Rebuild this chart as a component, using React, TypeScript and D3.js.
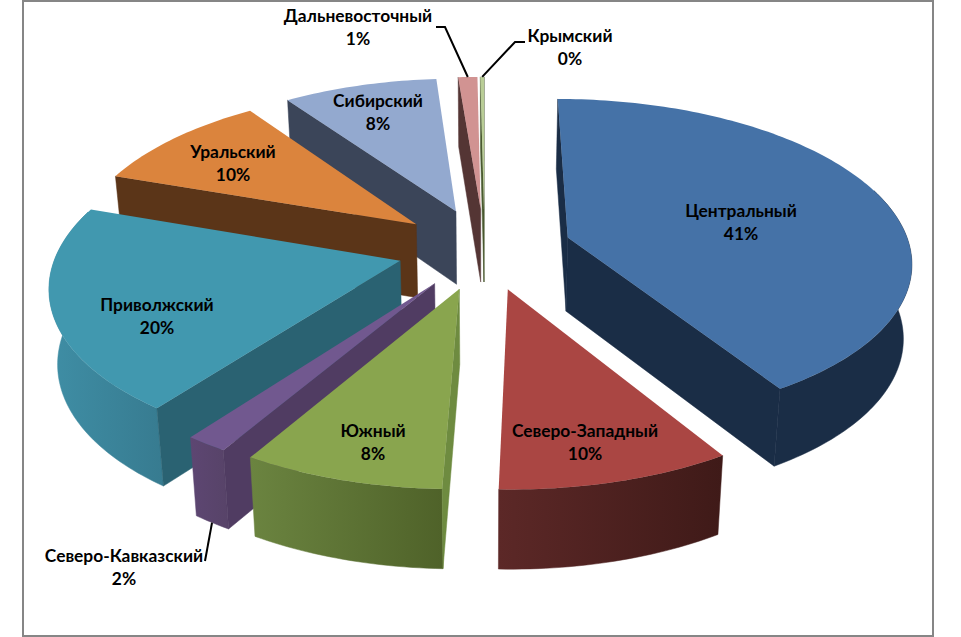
import React from "react";
import * as d3 from "d3";

const regions = [
  "Центральный",
  "Северо-Западный",
  "Южный",
  "Северо-Кавказский",
  "Приволжский",
  "Уральский",
  "Сибирский",
  "Дальневосточный",
  "Крымский",
];
const shares = [41.2, 9.3, 8.0, 1.7, 20.1, 10.0, 8.45, 1.05, 0.2];
const percentLabels = ["41%", "10%", "8%", "2%", "20%", "10%", "8%", "1%", "0%"];

const topColors = ["#4572A7", "#AA4643", "#89A54E", "#71588F", "#4198AF", "#DB843D", "#93A9CF", "#D19392", "#B9CD96"];
const wallColors = ["#1A2D46", "#451C1B", "#6E8B40", "#503C62", "#2A6272", "#5B3518", "#3B4559", "#543534", "#4A5A30"];
const rimFrom = ["#1A2D46", "#5C2827", "#6B8440", "#5D4672", "#3F8EA5", "#5B3518", "#3B4559", "#543534", "#4A5A30"];
const rimTo = ["#1A2D46", "#3F1A18", "#4F6229", "#574368", "#377B90", "#5B3518", "#3B4559", "#543534", "#4A5A30"];

const labelAnchors: [number, number][] = [
  [741, 217],
  [585, 437],
  [373, 437],
  [124, 562],
  [157, 311],
  [233, 158],
  [378, 107],
  [358, 22],
  [570, 42],
];

const width = 961;
const height = 637;
const cx = 484.5;
const cy = 248.5;
const R = 342.5;
const tilt = 0.468;
const persp = 0.137;
const depth = 74;
const explode = 0.255;

// u to the right, v towards the viewer, z = 0 top face, z = 1 bottom face
function project(u: number, v: number, z: number): [number, number] {
  const s = 1 / (1 - persp * v);
  const sz = z ? 0.98 : 1;
  return [cx + R * u * s * sz, cy + R * tilt * v * s + depth * z * Math.pow(s, 0.4)];
}

const pie = d3.pie<number>().sort(null);

const line = d3.line();

function angles(a0: number, a1: number) {
  const n = Math.max(2, Math.ceil((a1 - a0) / 0.02));
  return d3.range(n + 1).map((i) => a0 + ((a1 - a0) * i) / n);
}

function buildSlice(a0: number, a1: number) {
  const mid = (a0 + a1) / 2;
  const ox = explode * Math.sin(mid);
  const oy = -explode * Math.cos(mid);
  const rim = (a: number, z: number) => project(ox + Math.sin(a), oy - Math.cos(a), z);
  const apex = (z: number) => project(ox, oy, z);

  const top = [apex(0), ...angles(a0, a1).map((a) => rim(a, 0))];

  const startWall = [apex(0), rim(a0, 0), rim(a0, 1), apex(1)];
  const endWall = [apex(0), rim(a1, 0), rim(a1, 1), apex(1)];
  const walls: [number, number][][] = [];
  // d3.polygonArea is positive for counter-clockwise rings on screen
  if (d3.polygonArea(startWall) > 0) walls.push(startWall);
  if (d3.polygonArea(endWall) < 0) walls.push(endWall);

  // a little past the sides, the perspective moves the silhouette backwards
  const v0 = Math.max(a0, (72 * Math.PI) / 180);
  const v1 = Math.min(a1, (288 * Math.PI) / 180);
  const front = v1 > v0 ? angles(v0, v1) : [];
  const outer = front.length
    ? [...front.map((a) => rim(a, 0)), ...front.slice().reverse().map((a) => rim(a, 1))]
    : null;

  return { mid, top, walls, outer, rim };
}

const slices = pie(shares).map((d, i) => ({ i, ...buildSlice(d.startAngle, d.endAngle) }));
const drawOrder = slices.slice().sort((a, b) => -Math.cos(a.mid) - -Math.cos(b.mid));

const closed = (pts: [number, number][]) => line(pts) + "Z";

// elbow of each leader line, the other end sits on the slice
const dalRim = slices[7].rim(slices[7].mid, 0);
const krymRim = slices[8].rim(slices[8].mid, 0);
const skRim = slices[3].rim(slices[3].mid, 1);
const leaders: [number, number][][] = [
  [[436, 27], [445, 27], dalRim],
  [[525, 42], [515, 42], krymRim],
  [[205, 561], skRim],
];

export default function App() {
  return (
    <svg
      width={width}
      height={height}
      viewBox={`0 0 ${width} ${height}`}
      style={{ position: "absolute", left: 0, top: 0, background: "#fff" }}
    >
      <defs>
        {regions.map((_, i) => (
          <linearGradient key={i} id={`rim${i}`} x1="0" x2="1" y1="0" y2="0">
            <stop offset="0" stopColor={rimFrom[i]} />
            <stop offset="1" stopColor={rimTo[i]} />
          </linearGradient>
        ))}
      </defs>
      <rect x={23} y={1} width={910} height={635} fill="#fff" stroke="#868686" strokeWidth={2} />
      {drawOrder.map((s) => (
        <g key={s.i}>
          {s.outer && <path d={closed(s.outer)} fill={`url(#rim${s.i})`} stroke={`url(#rim${s.i})`} strokeWidth={0.5} />}
          {s.walls.map((w, j) => (
            <path key={j} d={closed(w)} fill={wallColors[s.i]} stroke={wallColors[s.i]} strokeWidth={0.5} />
          ))}
          <path d={closed(s.top)} fill={topColors[s.i]} />
        </g>
      ))}
      {leaders.map((pts, i) => (
        <path key={i} d={line(pts) ?? ""} fill="none" stroke="#000" strokeWidth={2} />
      ))}
      <g fontFamily="Lato, 'Noto Sans', sans-serif" fontWeight={700} fontSize={17.35} textAnchor="middle" fill="#000">
        {regions.map((name, i) => (
          <g key={name}>
            <text x={labelAnchors[i][0]} y={labelAnchors[i][1]}>{name}</text>
            <text x={labelAnchors[i][0]} y={labelAnchors[i][1] + 23}>{percentLabels[i]}</text>
          </g>
        ))}
      </g>
    </svg>
  );
}
